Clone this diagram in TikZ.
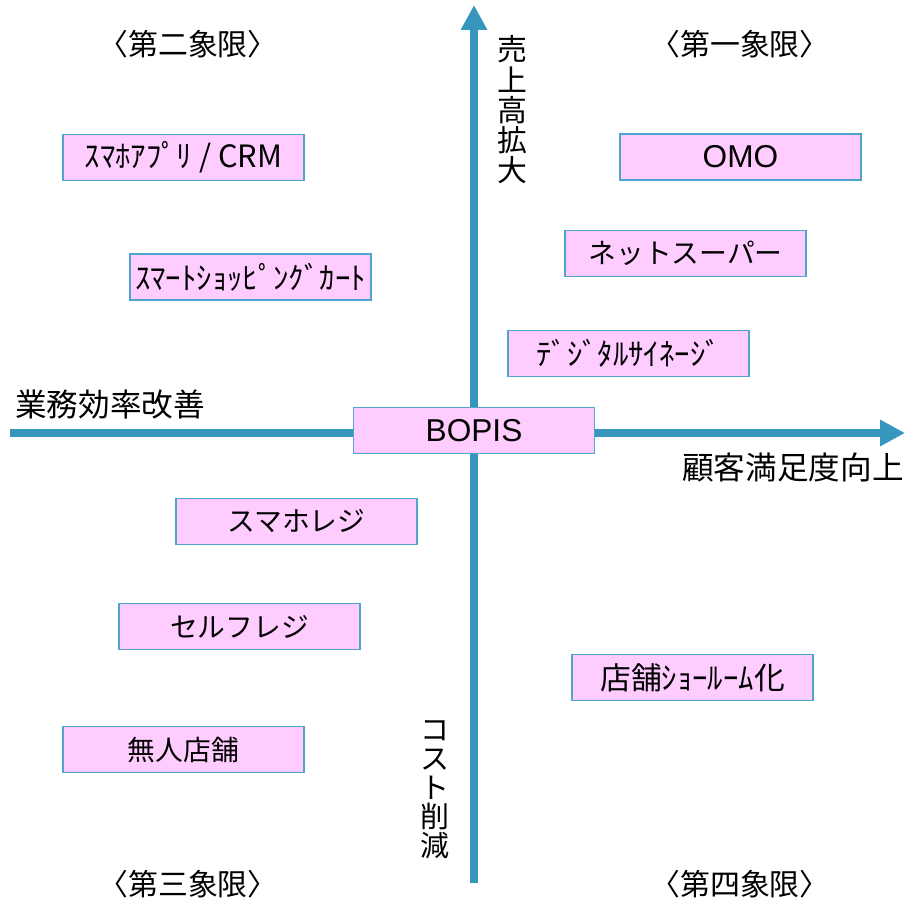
\documentclass[tikz,border=0pt]{standalone}
\usepackage{fontspec}
\setmainfont{Noto Sans CJK JP}
\newfontfamily\latinfont{Liberation Sans}
\usetikzlibrary{arrows.meta}
\definecolor{axisblue}{RGB}{55,150,190}
\definecolor{boxpink}{RGB}{255,204,255}
\definecolor{boxline}{RGB}{80,165,205}
\begin{document}
\begin{tikzpicture}[x=0.02cm, y=-0.02cm,
  item/.style={draw=boxline, fill=boxpink, line width=0.8pt, minimum width=4.82cm,
    minimum height=0.92cm, inner sep=0pt, font=\fontsize{15.8}{18}\selectfont},
  half/.style={font=\fontsize{17.5}{18}\selectfont},
  latin/.style={font=\fontsize{18}{18}\latinfont},
  axis/.style={axisblue, line width=0.16cm, -{Triangle[width=0.5cm,length=0.5cm]}},
  axlabel/.style={font=\fontsize{18}{20}\selectfont},
  quad/.style={font=\fontsize{17}{18}\selectfont}]

\useasboundingbox (0,0) rectangle (905,900);

% axes
\coordinate (west) at (10,433);
\coordinate (east) at (905,433);
\coordinate (south) at (474,883);
\coordinate (north) at (474,5);
\draw[axis] (west) -- (east);
\draw[axis] (south) -- (north);

% quadrant titles
\node[quad] (q1) at (740,44) {〈第一象限〉};
\node[quad] (q2) at (188,44) {〈第二象限〉};
\node[quad] (q3) at (188,884) {〈第三象限〉};
\node[quad] (q4) at (740,884) {〈第四象限〉};

% axis labels
\node[axlabel] (eff) at (110,405) {業務効率改善};
\node[axlabel] (cs) at (793,467) {顧客満足度向上};
\node[align=center, font=\fontsize{17}{17.2}\selectfont] (sales) at (512,110) {売\\上\\高\\拡\\大};
\node[align=center, font=\fontsize{16.5}{16.5}\selectfont] (cost) at (435,790) {コ\\ス\\ト\\削\\減};

% measures
\node[item, half] (crm) at (183.5,157.5) {ｽﾏﾎｱﾌﾟﾘ / CRM};
\node[item, half] (cart) at (250.5,277) {ｽﾏｰﾄｼｮｯﾋﾟﾝｸﾞｶｰﾄ};
\node[item, latin] (omo) at (740.5,157) {OMO};
\node[item] (netsuper) at (685.5,253.5) {ネットスーパー};
\node[item, half] (signage) at (628.5,353.5) {ﾃﾞｼﾞﾀﾙｻｲﾈｰｼﾞ};
\node[item, latin] (bopis) at (474,430.5) {BOPIS};
\node[item] (smaregi) at (296.5,521.5) {スマホレジ};
\node[item] (selfregi) at (239.5,626.5) {セルフレジ};
\node[item] (mujin) at (183.5,749.5) {無人店舗};
\node[item, half] (showroom) at (692.5,677.5) {店舗ｼｮｰﾙｰﾑ化};
\end{tikzpicture}
\end{document}
